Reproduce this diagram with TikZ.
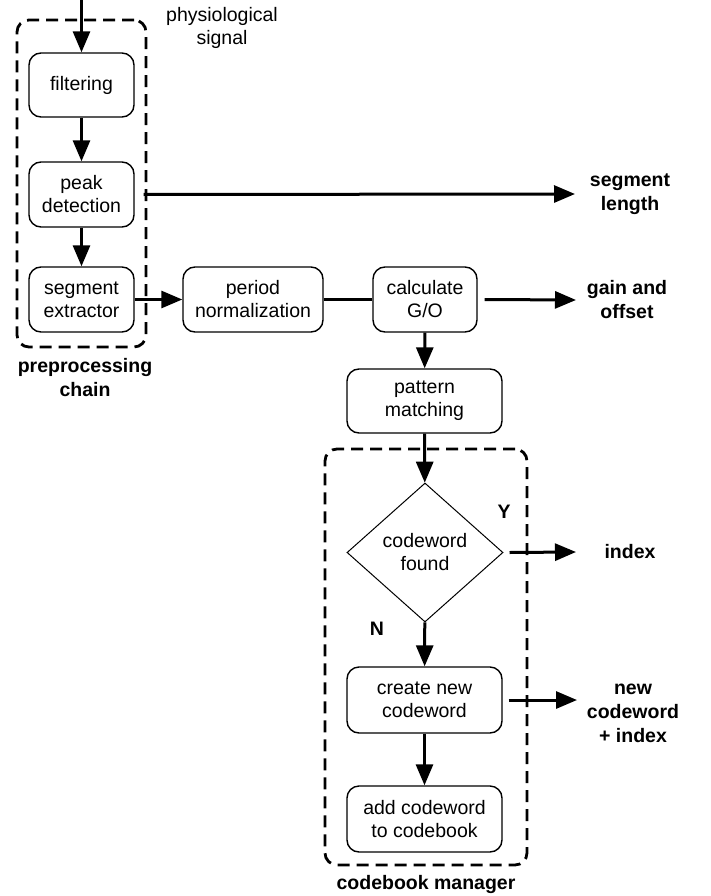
\documentclass[tikz,border=0pt]{standalone}
\usepackage{fontspec}
\setmainfont{Liberation Sans}
\usetikzlibrary{arrows.meta,shapes.geometric}
\begin{document}
\begin{tikzpicture}[x=1pt,y=-1pt,
  box/.style={draw, line width=1.4pt, rounded corners=12pt, align=center, inner sep=0pt,
    minimum height=65pt, font=\fontsize{19.5}{23}\selectfont},
  dec/.style={draw, diamond, line width=1pt, aspect=1.12, minimum width=156pt,
    minimum height=139pt, inner sep=0pt, align=center, font=\fontsize{19.5}{23}\selectfont},
  lbl/.style={align=center, inner sep=0pt, font=\fontsize{19.5}{23}\selectfont},
  blbl/.style={align=center, inner sep=0pt, font=\bfseries\fontsize{19.5}{24}\selectfont},
  flow/.style={line width=3pt, -{Triangle[length=21pt,width=17pt]}},
  link/.style={line width=3pt},
  group/.style={draw, line width=2.8pt, dash pattern=on 12pt off 7pt, rounded corners=12pt, inner sep=0pt}
]
\useasboundingbox (0,0) rectangle (710,896);

% groups
\node[group, minimum width=129pt, minimum height=327pt] (pre) at (81.5,183.5) {};
\node[group, minimum width=202pt, minimum height=416pt] (cbm) at (426,657) {};

% boxes
\node[box, minimum width=105pt, minimum height=64pt] (filt) at (81.5,85) {filtering};
\node[box, minimum width=105pt] (peak) at (81.5,194.5) {peak\\detection};
\node[box, minimum width=105pt] (seg) at (81.5,299.5) {segment\\extractor};
\node[box, minimum width=140pt] (per) at (253,299.5) {period\\normalization};
\node[box, minimum width=104pt] (calc) at (425,299.5) {calculate\\G/O};
\node[box, minimum width=155pt, minimum height=64pt] (pat) at (424.5,401) {pattern\\matching};
\node[dec] (dia) at (425,552.5) {codeword\\found};
\node[box, minimum width=155pt, minimum height=66pt] (create) at (424.5,700) {create new\\codeword};
\node[box, minimum width=155pt, minimum height=66pt] (add) at (424.5,819) {add codeword\\to codebook};

% labels
\node[lbl] (sig) at (222,28) {physiological\\signal};
\node[blbl] (seglen) at (630,194) {segment\\length};
\node[blbl] (gain) at (627,300) {gain and\\offset};
\node[blbl] (idx) at (630,552) {index};
\node[blbl] (newcw) at (633,713) {new\\codeword\\+ index};
\node[blbl] (prel) at (85,378) {preprocessing\\chain};
\node[blbl] (cbl) at (426,884) {codebook manager};
\node[blbl] (ylab) at (504,512) {Y};
\node[blbl] (nlab) at (377,629) {N};

% connector ends
\coordinate (in) at (81.5,0);
\coordinate (segend) at (575,194);
\coordinate (gainend) at (576,300);
\coordinate (idxend) at (576,552);
\coordinate (newend) at (577,700);

% connectors
\draw[flow] (in) -- (filt.north);
\draw[flow] (filt) -- (peak);
\draw[flow] (peak) -- (seg);
\draw[flow] ([xshift=9pt]peak.east) -- (segend);
\draw[flow] (seg) -- (per);
\draw[link] (per) -- (calc);
\draw[flow] ([xshift=7pt]calc.east) -- (gainend);
\draw[flow] (calc) -- (pat);
\draw[flow] (pat) -- (dia);
\draw[flow] ([xshift=6pt]dia.east) -- (idxend);
\draw[flow] (dia) -- (create);
\draw[flow] ([xshift=6pt]create.east) -- (newend);
\draw[flow] (create) -- (add);
\end{tikzpicture}
\end{document}
